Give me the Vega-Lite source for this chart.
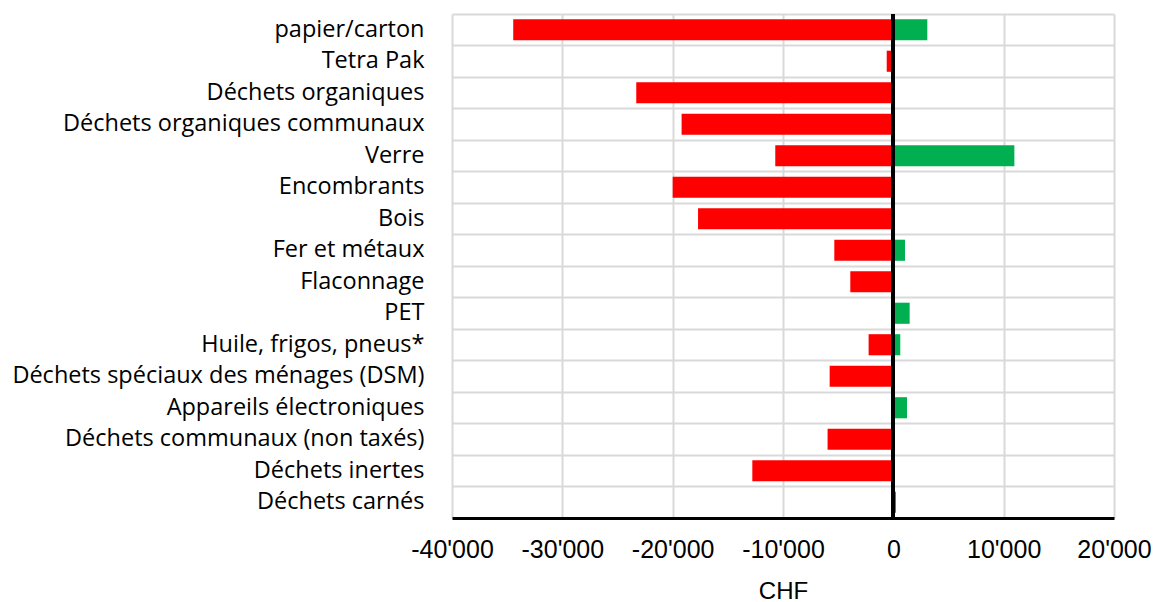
{
  "$schema": "https://vega.github.io/schema/vega-lite/v6.json",
  "width": 662,
  "height": 504,
  "autosize": {"type": "none"},
  "padding": {"left": 452, "top": 14, "right": 39, "bottom": 84},
  "config": {
    "locale": {"number": {"decimal": ".", "thousands": "'", "grouping": [3], "currency": ["", ""], "minus": "-"}},
    "view": {"stroke": null}
  },
  "data": {
    "values": [
      {"cat": "papier/carton", "value": -34450, "sign": "neg"},
      {"cat": "papier/carton", "value": 3080, "sign": "pos"},
      {"cat": "Tetra Pak", "value": -600, "sign": "neg"},
      {"cat": "Déchets organiques", "value": -23300, "sign": "neg"},
      {"cat": "Déchets organiques communaux", "value": -19190, "sign": "neg"},
      {"cat": "Verre", "value": -10700, "sign": "neg"},
      {"cat": "Verre", "value": 10970, "sign": "pos"},
      {"cat": "Encombrants", "value": -20000, "sign": "neg"},
      {"cat": "Bois", "value": -17700, "sign": "neg"},
      {"cat": "Fer et métaux", "value": -5350, "sign": "neg"},
      {"cat": "Fer et métaux", "value": 1060, "sign": "pos"},
      {"cat": "Flaconnage", "value": -3900, "sign": "neg"},
      {"cat": "PET", "value": 1480, "sign": "pos"},
      {"cat": "Huile, frigos, pneus*", "value": -2240, "sign": "neg"},
      {"cat": "Huile, frigos, pneus*", "value": 630, "sign": "pos"},
      {"cat": "Déchets spéciaux des ménages (DSM)", "value": -5770, "sign": "neg"},
      {"cat": "Appareils électroniques", "value": 1240, "sign": "pos"},
      {"cat": "Déchets communaux (non taxés)", "value": -5960, "sign": "neg"},
      {"cat": "Déchets inertes", "value": -12780, "sign": "neg"},
      {"cat": "Déchets carnés", "value": -180, "sign": "neg"},
      {"cat": "Déchets carnés", "value": 240, "sign": "pos"}
    ]
  },
  "layer": [
    {
      "mark": {"type": "bar", "height": {"band": 0.67}},
      "encoding": {
        "y": {
          "field": "cat", "type": "nominal", "sort": null,
          "scale": {"paddingInner": 0, "paddingOuter": 0},
          "axis": {
            "title": null, "domain": false, "ticks": false, "grid": false,
            "labelFont": "Open Sans", "labelFontSize": 23.5, "labelColor": "#000",
            "labelPadding": 28, "labelLimit": 600
          }
        },
        "x": {
          "field": "value", "type": "quantitative", "stack": null,
          "scale": {"domain": [-40000, 20000], "nice": false, "zero": false},
          "axis": {
            "title": "CHF",
            "values": [-40000, -30000, -20000, -10000, 0, 10000, 20000],
            "format": ",d",
            "labelOverlap": false,
            "labelFlush": false,
            "grid": true, "gridColor": "#d9d9d9", "gridWidth": 2,
            "ticks": false,
            "domainColor": "#000", "domainWidth": 3,
            "labelFont": "Liberation Sans", "labelFontSize": 25, "labelColor": "#000",
            "labelPadding": 19,
            "titleFont": "Liberation Sans", "titleFontSize": 24, "titleFontWeight": "normal",
            "titleColor": "#000", "titlePadding": 17
          }
        },
        "color": {
          "field": "sign", "type": "nominal",
          "scale": {"domain": ["neg", "pos"], "range": ["#FF0000", "#00B050"]},
          "legend": null
        }
      }
    },
    {
      "mark": {"type": "bar", "opacity": 0},
      "encoding": {
        "y": {
          "field": "cat", "type": "nominal", "sort": null,
          "axis": {
            "orient": "right", "title": null, "domain": false, "ticks": false, "labels": false,
            "grid": true, "gridColor": "#d9d9d9", "gridWidth": 2, "bandPosition": 0
          }
        },
        "x": {"field": "value", "type": "quantitative", "stack": null}
      }
    },
    {
      "mark": {"type": "rule", "color": "#000", "strokeWidth": 3},
      "encoding": {"x": {"datum": 0}}
    }
  ],
  "resolve": {"axis": {"y": "independent"}}
}
